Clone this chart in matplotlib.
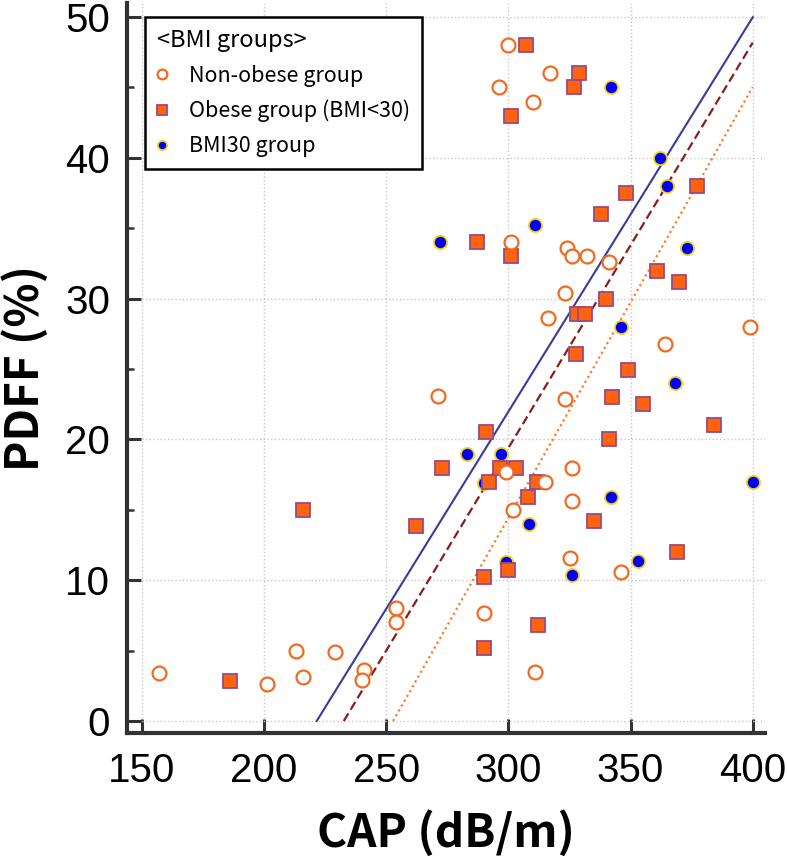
import matplotlib
matplotlib.use("Agg")
import matplotlib.pyplot as plt
import numpy as np

# --- data ---
# Non-obese group (open circles)
nonobese_cap = [157, 201, 213, 216, 229, 241, 240, 254, 254, 290, 311, 302, 299, 315,
                271, 301, 316, 300, 317, 296, 310, 324, 326, 332, 341, 323, 364, 399,
                323, 326, 326, 325, 346]
nonobese_pdff = [3.4, 2.6, 5.0, 3.1, 4.9, 3.6, 2.9, 8.0, 7.0, 7.7, 3.5, 15.0, 17.7, 17.0,
                 23.1, 34.0, 28.6, 48.0, 46.0, 45.0, 44.0, 33.6, 33.0, 33.0, 32.6, 30.4, 26.8, 28.0,
                 22.9, 18.0, 15.6, 11.6, 10.6]

# Obese group BMI<30 (squares)
obese_cap = [186, 216, 262, 273, 291, 296.5, 303, 292, 311.5, 308, 290, 300, 312, 290,
             287, 301, 307, 329, 327, 301, 348, 338, 377, 361, 370, 340, 328, 331.5,
             327.5, 349, 342.5, 355, 384, 341, 335, 369]
obese_pdff = [2.85, 15.0, 13.85, 17.95, 20.5, 17.95, 17.95, 17.0, 17.0, 15.9, 10.2, 10.7, 6.8, 5.2,
              34.0, 33.0, 48.0, 46.0, 45.0, 43.0, 37.5, 36.0, 38.0, 32.0, 31.2, 30.0, 28.9, 28.9,
              26.1, 24.9, 23.0, 22.5, 21.0, 20.0, 14.2, 12.0]

# BMI30 group (filled blue dots)
bmi30_cap = [272, 311, 283, 297, 290, 308.5, 299, 342, 362, 365, 373, 346, 368, 342, 400, 353, 326]
bmi30_pdff = [34.0, 35.2, 19.0, 19.0, 16.9, 14.0, 11.3, 45.0, 40.0, 38.0, 33.6, 28.0, 24.0, 15.9,
              17.0, 11.4, 10.4]

# regression lines (slope, intercept) per group
fit_slope = [0.2801, 0.2879, 0.306]      # BMI30, obese, non-obese
fit_intercept = [-62.05, -66.97, -77.36]

x_ticks = [150, 200, 250, 300, 350, 400]
y_ticks = [0, 10, 20, 30, 40, 50]

# --- styles ---
c_circle = "#f26a22"
c_sq_face = "#ff6310"
c_sq_edge = "#9a4a80"
c_blue = "#0000f0"
c_yellow = "#f7d21c"

tick_font = ["Liberation Sans Narrow", "Liberation Sans", "DejaVu Sans"]
label_font = ["Noto Sans CJK KR", "DejaVu Sans"]

fig = plt.figure(figsize=(7.87, 8.58), dpi=100)
ax = fig.add_axes([0.1614, 0.1457, 0.8106, 0.8508])

ax.set_xlim(143.9, 405.0)
ax.set_ylim(-0.85, 51.0)

# regression lines
line_styles = [dict(color="#3a3a9c", ls="-", lw=1.5),
               dict(color="#8b1c1c", ls=(0, (4, 2)), lw=1.6),
               dict(color="#ff7a28", ls=(0, (1, 1.5)), lw=1.6)]
for k in range(3):
    x0 = -fit_intercept[k] / fit_slope[k]
    xs = np.array([x0, 400])
    ax.plot(xs, fit_slope[k] * xs + fit_intercept[k], zorder=2, **line_styles[k])

h3, = ax.plot(bmi30_cap, bmi30_pdff, ls="none", marker="o", ms=9.5,
              mfc=c_blue, mec=c_yellow, mew=1.3, zorder=3, label="BMI30 group")
h2, = ax.plot(obese_cap, obese_pdff, ls="none", marker="s", ms=10.5,
              mfc=c_sq_face, mec=c_sq_edge, mew=1.3, zorder=4, label="Obese group (BMI<30)")
h1, = ax.plot(nonobese_cap, nonobese_pdff, ls="none", marker="o", ms=10,
              mfc="white", mec=c_circle, mew=1.6, zorder=5, label="Non-obese group")

# axes cosmetics
for s in ["top", "right"]:
    ax.spines[s].set_visible(False)
for s in ["left", "bottom"]:
    ax.spines[s].set_linewidth(3)
    ax.spines[s].set_color("#333333")

ax.set_xticks(x_ticks)
ax.set_yticks(y_ticks)
ax.set_yticks([5, 15, 25, 35, 45], minor=True)
ax.tick_params(axis="both", which="major", direction="in", length=10, width=2.2,
               color="#333333", labelsize=29)
ax.tick_params(axis="y", which="minor", direction="in", length=5, width=1.8, color="#333333")
ax.tick_params(axis="x", pad=14)
ax.tick_params(axis="y", pad=12)
for lab in ax.get_xticklabels() + ax.get_yticklabels():
    lab.set_family(tick_font)

ax.grid(True, which="major", color="#c8c8c8", ls=":", lw=1.0, zorder=0)
ax.set_axisbelow(True)

ax.set_xlabel("CAP (dB/m)", fontsize=33, fontweight="bold", family=label_font, labelpad=14)
ax.set_ylabel("PDFF (%)", fontsize=33, fontweight="bold", family=label_font, labelpad=12)

leg = ax.legend(handles=[h1, h2, h3], title="<BMI groups>", loc="upper left",
                bbox_to_anchor=(0.028, 0.981), borderaxespad=0, alignment="left",
                markerscale=0.7, fancybox=False, framealpha=1, edgecolor="black",
                prop={"family": label_font, "size": 15.5},
                title_fontproperties={"family": label_font, "size": 17},
                handletextpad=1.0, borderpad=0.55, labelspacing=0.6, handlelength=0.5)
leg.get_frame().set_linewidth(1.8)

fig.savefig("out.png", dpi=100)
